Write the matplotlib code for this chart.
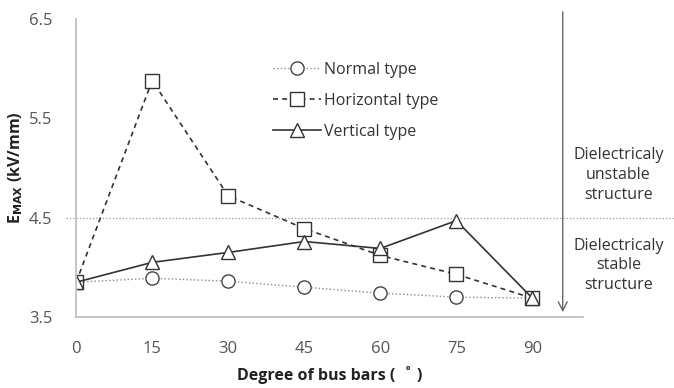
import numpy as np
import matplotlib.pyplot as plt

plt.rcParams['font.family'] = ['Open Sans', 'DejaVu Sans']

degrees = [0, 15, 30, 45, 60, 75, 90]
normal = [3.85, 3.89, 3.86, 3.80, 3.74, 3.70, 3.69]
horizontal = [3.85, 5.88, 4.72, 4.39, 4.12, 3.93, 3.69]
vertical = [3.85, 4.05, 4.15, 4.26, 4.19, 4.47, 3.69]
yticks = [3.5, 4.5, 5.5, 6.5]
threshold = 4.5

fig = plt.figure(figsize=(6.74, 3.88), dpi=100)
ax = fig.add_axes([0.113, 0.183, 0.752, 0.768])

ax.plot(degrees, normal, color='#8a8a8a', linewidth=1, linestyle=':',
        marker='o', markersize=9.5, markerfacecolor='white',
        markeredgecolor='#444444', markeredgewidth=1, label='Normal type')
ax.plot(degrees, horizontal, color='#333333', linewidth=1.2, linestyle=(0, (3, 2.5)),
        marker='s', markersize=10, markerfacecolor='white',
        markeredgecolor='#333333', markeredgewidth=1, label='Horizontal type')
ax.plot(degrees, vertical, color='#333333', linewidth=1.2, linestyle='-',
        marker='^', markersize=10.5, markerfacecolor='white',
        markeredgecolor='#333333', markeredgewidth=1, label='Vertical type')

# threshold line runs across the whole figure
ax.axhline(threshold, xmin=-0.02, xmax=1.2, color='#9a9a9a', linewidth=0.9,
           linestyle=':', clip_on=False, zorder=1)

ax.set_xlim(0, 100)
ax.set_ylim(3.5, 6.5)
ax.set_xticks(degrees)
ax.set_yticks(yticks)
ax.set_yticklabels([str(v) for v in yticks])
ax.tick_params(axis='both', length=0, labelsize=12, colors='#555555')
ax.tick_params(axis='x', pad=17)
ax.tick_params(axis='y', pad=17)

for s in ['top', 'right']:
    ax.spines[s].set_visible(False)
for s in ['left', 'bottom']:
    ax.spines[s].set_color('#c0c0c0')
    ax.spines[s].set_linewidth(1.3)

ax.set_xlabel('Degree of bus bars (  \u02da )', fontsize=11.5, fontweight='bold',
              labelpad=7, color='#222222')
ax.set_ylabel(r'E$_{\mathbf{MAX}}$ (kV/mm)', fontsize=11.5, fontweight='bold',
              color='#222222', va='center')
ax.yaxis.set_label_coords(-0.12, 0.5)

# stability arrow
ax.annotate('', xy=(96, 3.52), xytext=(96, 6.6), xycoords='data',
            arrowprops=dict(arrowstyle='->', color='#666666', lw=1,
                            mutation_scale=16), annotation_clip=False)

ax.text(1.07, 4.93, 'Dielectricaly\nunstable\nstructure', transform=ax.get_yaxis_transform(),
        ha='center', va='center', fontsize=11.5, color='#333333', linespacing=1.3)
ax.text(1.07, 4.02, 'Dielectricaly\nstable\nstructure', transform=ax.get_yaxis_transform(),
        ha='center', va='center', fontsize=11.5, color='#333333', linespacing=1.3)

leg = ax.legend(loc='upper left', bbox_to_anchor=(0.36, 0.905), frameon=False,
                fontsize=11.5, handlelength=3.0, handletextpad=0.2, labelspacing=0.95)
for t in leg.get_texts():
    t.set_color('#333333')

fig.savefig('out.png', dpi=100)
